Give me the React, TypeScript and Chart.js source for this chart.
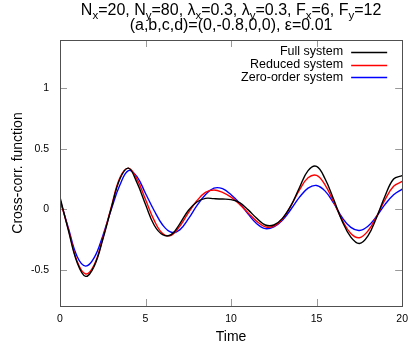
import React, { useEffect, useRef } from "react";
import { Chart, registerables } from "chart.js";

Chart.register(...registerables);

const timePoints = [
  0, 0.5, 1, 1.5, 2, 2.5, 3, 3.5, 4, 4.5, 5, 5.5, 6, 6.5, 7, 7.5, 8, 8.5, 9, 9.5,
  10, 10.5, 11, 11.5, 12, 12.5, 13, 13.5, 14, 14.5, 15, 15.5, 16, 16.5, 17, 17.5,
  18, 18.5, 19, 19.5, 20,
];

const fullSystem = [
  0.1, -0.18, -0.44, -0.555, -0.47, -0.25, 0.01, 0.25, 0.34, 0.22, 0.04, -0.13,
  -0.21, -0.21, -0.12, -0.01, 0.06, 0.09, 0.088, 0.085, 0.08, 0.055, -0.005,
  -0.075, -0.13, -0.13, -0.075, 0.03, 0.18, 0.32, 0.355, 0.25, 0.08, -0.1,
  -0.23, -0.283, -0.22, -0.07, 0.11, 0.25, 0.278,
];

const reducedSystem = [
  0.08, -0.17, -0.43, -0.535, -0.46, -0.24, 0.02, 0.26, 0.34, 0.25, 0.08, -0.09,
  -0.2, -0.215, -0.14, -0.03, 0.07, 0.14, 0.16, 0.14, 0.1, 0.04, -0.03, -0.1,
  -0.145, -0.14, -0.08, 0.03, 0.16, 0.26, 0.28, 0.2, 0.06, -0.09, -0.2, -0.235,
  -0.18, -0.06, 0.08, 0.19, 0.23,
];

const zeroOrderSystem = [
  0.08, -0.16, -0.39, -0.47, -0.4, -0.22, 0.0, 0.2, 0.32, 0.27, 0.13, -0.01,
  -0.13, -0.19, -0.17, -0.08, 0.03, 0.12, 0.175, 0.17, 0.12, 0.05, -0.04, -0.12,
  -0.16, -0.145, -0.09, 0.0, 0.1, 0.175, 0.197, 0.15, 0.05, -0.07, -0.15,
  -0.175, -0.14, -0.06, 0.04, 0.12, 0.167,
];

const seriesNames = ["Full system", "Reduced system", "Zero-order system"];
const seriesColors = ["#000000", "#ff0000", "#0000ff"];

const xTickValues = [0, 5, 10, 15, 20];
const yTickValues = [-0.5, 0, 0.5, 1];

const xAxisTitle = "Time";
const yAxisTitle = "Cross-corr. function";

type Seg = { t: string; sub?: boolean };
const titleLine1: Seg[] = [
  { t: "N" }, { t: "x", sub: true }, { t: "=20, N" }, { t: "y", sub: true },
  { t: "=80, λ" }, { t: "x", sub: true }, { t: "=0.3, λ" }, { t: "y", sub: true },
  { t: "=0.3, F" }, { t: "x", sub: true }, { t: "=6, F" }, { t: "y", sub: true },
  { t: "=12" },
];
const titleLine2: Seg[] = [{ t: "(a,b,c,d)=(0,-0.8,0,0), ε=0.01" }];

const FONT = "'Liberation Sans', Arial, sans-serif";

const titlePlugin = {
  id: "richTitle",
  afterDraw(chart: any) {
    const ctx = chart.ctx as CanvasRenderingContext2D;
    const area = chart.chartArea;
    const cx = (area.left + area.right) / 2;
    const mainFont = `16px ${FONT}`;
    const subFont = `11.5px ${FONT}`;
    const drawLine = (segs: Seg[], baseline: number) => {
      let total = 0;
      for (const s of segs) {
        ctx.font = s.sub ? subFont : mainFont;
        total += ctx.measureText(s.t).width;
      }
      let x = cx - total / 2;
      ctx.save();
      ctx.fillStyle = "#000";
      ctx.textAlign = "left";
      ctx.textBaseline = "alphabetic";
      for (const s of segs) {
        ctx.font = s.sub ? subFont : mainFont;
        ctx.fillText(s.t, x, s.sub ? baseline + 3.5 : baseline);
        x += ctx.measureText(s.t).width;
      }
      ctx.restore();
    };
    drawLine(titleLine1, 15);
    drawLine(titleLine2, 30);
  },
};

const framePlugin = {
  id: "frameTicks",
  beforeDatasetsDraw(chart: any) {
    const ctx = chart.ctx as CanvasRenderingContext2D;
    const { left, right, top, bottom } = chart.chartArea;
    const xs = chart.scales.x;
    const ys = chart.scales.y;
    const len = 7;
    ctx.save();
    ctx.strokeStyle = "#999999";
    ctx.lineWidth = 1;
    ctx.beginPath();
    for (const v of xTickValues) {
      const px = Math.round(xs.getPixelForValue(v)) + 0.5;
      ctx.moveTo(px, bottom);
      ctx.lineTo(px, bottom - len);
      ctx.moveTo(px, top);
      ctx.lineTo(px, top + len);
    }
    for (const v of yTickValues) {
      const py = Math.round(ys.getPixelForValue(v)) + 0.5;
      ctx.moveTo(left, py);
      ctx.lineTo(left + len, py);
      ctx.moveTo(right, py);
      ctx.lineTo(right - len, py);
    }
    ctx.stroke();
    ctx.restore();
  },
  afterDatasetsDraw(chart: any) {
    const ctx = chart.ctx as CanvasRenderingContext2D;
    const { left, right, top, bottom } = chart.chartArea;
    ctx.save();
    ctx.strokeStyle = "#505050";
    ctx.lineWidth = 1;
    ctx.strokeRect(
      Math.round(left) + 0.5,
      Math.round(top) + 0.5,
      Math.round(right - left),
      Math.round(bottom - top)
    );
    ctx.restore();
  },
};

const legendPlugin = {
  id: "insideLegend",
  afterDraw(chart: any) {
    const ctx = chart.ctx as CanvasRenderingContext2D;
    const { right, top } = chart.chartArea;
    const lineRight = right - 15;
    const lineLeft = lineRight - 36;
    const textRight = lineLeft - 8;
    ctx.save();
    ctx.font = `12.5px ${FONT}`;
    ctx.textAlign = "right";
    ctx.textBaseline = "middle";
    seriesNames.forEach((name, i) => {
      const y = top + 12 + i * 12.7;
      ctx.fillStyle = "#000";
      ctx.fillText(name, textRight, y);
      ctx.strokeStyle = seriesColors[i];
      ctx.lineWidth = 1.4;
      ctx.beginPath();
      ctx.moveTo(lineLeft, Math.round(y) + 0.5);
      ctx.lineTo(lineRight, Math.round(y) + 0.5);
      ctx.stroke();
    });
    ctx.restore();
  },
};

export default function App() {
  const canvasRef = useRef<HTMLCanvasElement | null>(null);

  useEffect(() => {
    const canvas = canvasRef.current;
    if (!canvas) return;
    const allSeries = [fullSystem, reducedSystem, zeroOrderSystem];
    const chart = new Chart(canvas, {
      type: "line",
      data: {
        datasets: allSeries.map((vals, i) => ({
          label: seriesNames[i],
          data: timePoints.map((t, j) => ({ x: t, y: vals[j] })),
          borderColor: seriesColors[i],
          borderWidth: 1.4,
          pointRadius: 0,
          tension: 0.4,
          fill: false,
        })),
      },
      options: {
        responsive: false,
        animation: false,
        devicePixelRatio: 1,
        layout: { padding: { top: 40, right: 8, left: 0, bottom: 0 } },
        plugins: {
          legend: { display: false },
          title: { display: false },
          tooltip: { enabled: false },
        },
        scales: {
          x: {
            type: "linear",
            min: 0,
            max: 20,
            grid: { display: false, drawTicks: false },
            border: { display: false },
            afterBuildTicks: (scale: any) => {
              scale.ticks = xTickValues.map((v) => ({ value: v }));
            },
            afterFit: (scale: any) => {
              scale.height = 37;
            },
            ticks: {
              color: "#000",
              padding: 7,
              maxRotation: 0,
              autoSkip: false,
              font: { family: FONT, size: 10.5 },
              callback: (v: any) => String(v),
            },
            title: {
              display: true,
              text: xAxisTitle,
              color: "#000",
              font: { family: FONT, size: 14 },
              padding: { top: 0, bottom: -3 },
            },
          },
          y: {
            type: "linear",
            min: -0.8,
            max: 1.4,
            grid: { display: false, drawTicks: false },
            border: { display: false },
            afterBuildTicks: (scale: any) => {
              scale.ticks = yTickValues.map((v) => ({ value: v }));
            },
            afterFit: (scale: any) => {
              scale.width = 60;
            },
            ticks: {
              color: "#000",
              padding: 11,
              autoSkip: false,
              font: { family: FONT, size: 10.5 },
              callback: (v: any) => String(v),
            },
            title: {
              display: true,
              text: yAxisTitle,
              color: "#000",
              font: { family: FONT, size: 14 },
              padding: { top: 10, bottom: 0 },
            },
          },
        },
      },
      plugins: [framePlugin, legendPlugin, titlePlugin],
    });
    return () => chart.destroy();
  }, []);

  return (
    <div style={{ position: "fixed", left: 0, top: 0, width: 415, height: 343, background: "#fff" }}>
      <canvas ref={canvasRef} width={415} height={343} style={{ width: 415, height: 343 }} />
    </div>
  );
}
